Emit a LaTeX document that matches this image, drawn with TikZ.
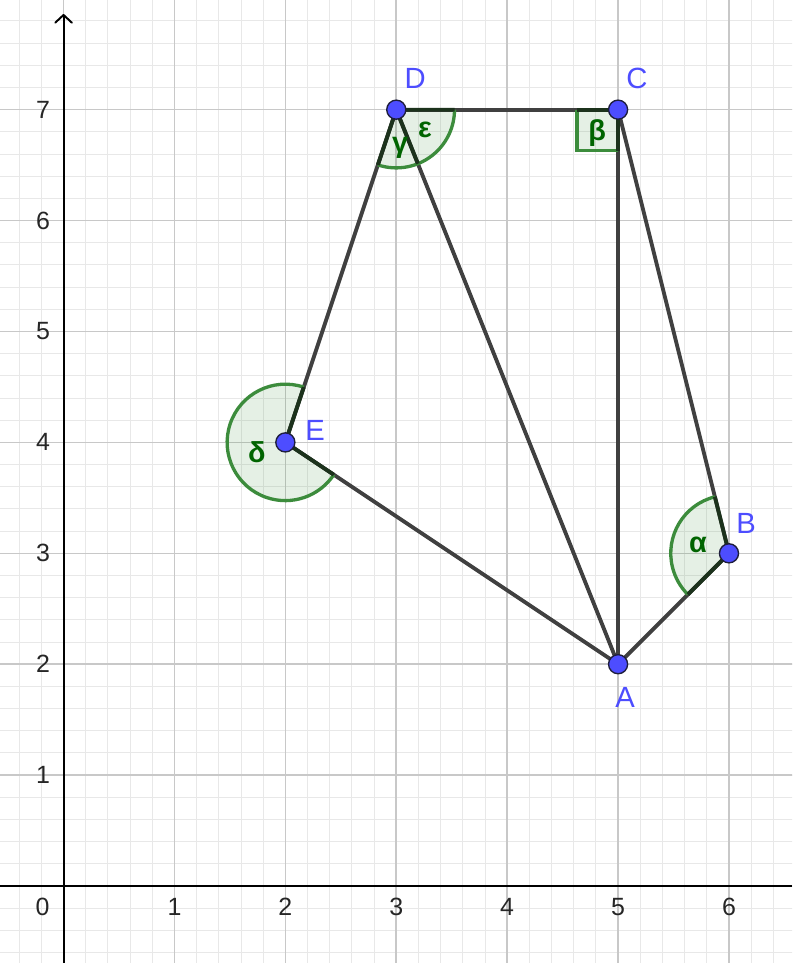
\documentclass[tikz,border=0pt]{standalone}
\usepackage{fontspec}
\setmainfont{Liberation Sans}
\definecolor{ptblue}{RGB}{77,77,255}
\definecolor{ptline}{RGB}{30,30,60}
\definecolor{segc}{RGB}{64,64,64}
\definecolor{angc}{RGB}{60,140,60}
\definecolor{angtxt}{RGB}{0,100,0}
\definecolor{angdark}{RGB}{28,50,28}
\definecolor{majgrid}{RGB}{200,200,200}
\definecolor{mingrid}{RGB}{232,232,232}
\begin{document}
\begin{tikzpicture}[x=1cm,y=1cm,
  seg/.style={draw=segc,line width=0.98pt},
  pt/.style={circle,fill=ptblue,draw=ptline,line width=0.35pt,inner sep=0pt,minimum size=4.9pt},
  plabel/.style={text=ptblue,font=\fontsize{7.5}{8}\selectfont,inner sep=0pt},
  ticklab/.style={text=black!85,font=\fontsize{6.4}{7}\selectfont,inner sep=0pt},
  glabel/.style={text=angtxt,font=\fontsize{7.4}{8}\selectfont\bfseries,inner sep=0pt},
  angfill/.style={fill=angc,fill opacity=0.13},
  angarc/.style={draw=angc,line width=0.85pt},
  angrad/.style={draw=angdark,line width=0.98pt},
  axisline/.style={draw=black,line width=0.5pt},
]
\useasboundingbox (-0.573,-0.694) rectangle (6.569,7.989);
\clip (-0.573,-0.694) rectangle (6.569,7.989);
\fill[white] (-0.573,-0.694) rectangle (6.569,7.989);
% grid
\draw[mingrid,line width=0.25pt,step=0.2] (-1,-1) grid (7,9);
\draw[majgrid,line width=0.4pt,step=1] (-1,-1) grid (7,9);
% axes
\coordinate (xl) at (-0.573,0);
\coordinate (xr) at (6.569,0);
\coordinate (yb) at (0,-0.694);
\coordinate (yt) at (0,7.854);
\draw[axisline] (xl) -- (xr);
\draw[axisline] (yb) -- (yt);
\draw[axisline,line cap=round,line join=round] (yt) ++(-0.075,-0.07) -- (yt) -- +(0.075,-0.07);
% tick labels
\foreach \k in {1,...,6} \node[ticklab] (tx\k) at (\k,-0.185) {\k};
\node[ticklab] (t0) at (-0.19,-0.185) {0};
\foreach \k in {1,...,7} \node[ticklab,anchor=east] (ty\k) at (-0.115,\k) {\k};
% points
\coordinate (A) at (5,2);
\coordinate (B) at (6,3);
\coordinate (C) at (5,7);
\coordinate (D) at (3,7);
\coordinate (E) at (2,4);
% sector fills
\def\rr{0.525}
\fill[angfill] (B) -- ++(104.036:\rr) arc[start angle=104.036,end angle=225,radius=\rr] -- cycle;
\fill[angfill] (E) -- ++(71.565:\rr) arc[start angle=71.565,end angle=326.31,radius=\rr] -- cycle;
\fill[angfill] (D) -- ++(251.565:\rr) arc[start angle=251.565,end angle=360,radius=\rr] -- cycle;
\fill[angfill] (C) rectangle ++(-0.37,-0.37);
% segments
\draw[seg] (A) -- (B);
\draw[seg] (B) -- (C);
\draw[seg] (C) -- (D);
\draw[seg] (D) -- (E);
\draw[seg] (E) -- (A);
\draw[seg] (D) -- (A);
\draw[seg] (C) -- (A);
% sector arcs
\draw[angarc] (B) ++(104.036:\rr) arc[start angle=104.036,end angle=225,radius=\rr];
\draw[angarc] (E) ++(71.565:\rr) arc[start angle=71.565,end angle=326.31,radius=\rr];
\draw[angarc] (D) ++(251.565:\rr) arc[start angle=251.565,end angle=360,radius=\rr];
\draw[angarc] (C) ++(-0.37,0) -- ++(0,-0.37) -- ++(0.37,0);
% dark radii
\draw[angrad] (B) -- ++(104.036:\rr) (B) -- ++(225:\rr);
\draw[angrad] (E) -- ++(71.565:\rr) (E) -- ++(326.31:\rr);
\draw[angrad] (D) -- ++(251.565:\rr) (D) -- ++(291.801:\rr) (D) -- ++(0:\rr);
\draw[angrad] (C) -- ++(-0.37,0) (C) -- ++(0,-0.37);
% point markers
\node[pt] (pA) at (A) {};
\node[pt] (pB) at (B) {};
\node[pt] (pC) at (C) {};
\node[pt] (pD) at (D) {};
\node[pt] (pE) at (E) {};
% point labels
\node[plabel] (lD) at (3.17,7.286) {D};
\node[plabel] (lC) at (5.171,7.286) {C};
\node[plabel] (lE) at (2.268,4.112) {E};
\node[plabel] (lB) at (6.154,3.273) {B};
\node[plabel] (lA) at (5.063,1.704) {A};
% angle labels
\node[glabel] (ge) at (3.259,6.817) {ε};
\node[glabel] (gg) at (3.034,6.655) {γ};
\node[glabel] (gb) at (4.811,6.790) {β};
\node[glabel] (gd) at (1.744,3.913) {δ};
\node[glabel] (ga) at (5.721,3.075) {α};
\end{tikzpicture}
\end{document}
